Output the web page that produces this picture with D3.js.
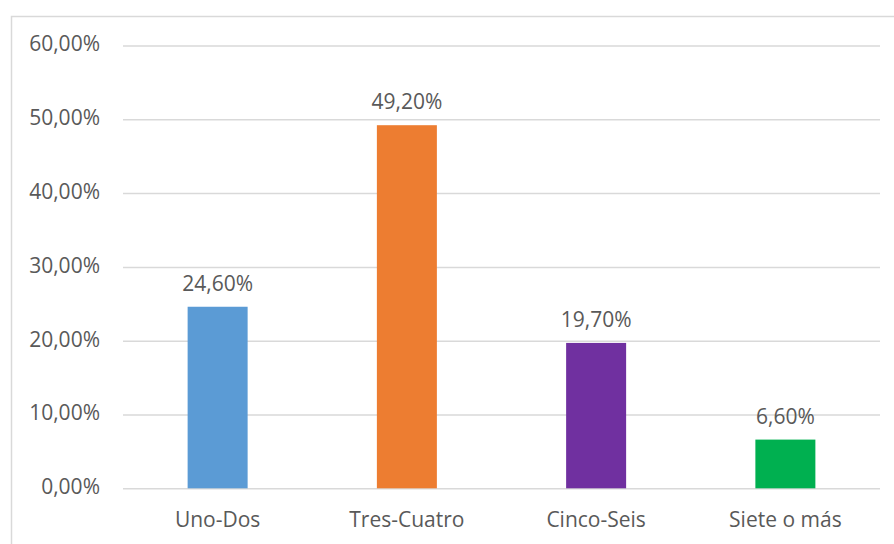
<!DOCTYPE html>
<html>
<head>
<meta charset="utf-8">
<script src="https://cdn.jsdelivr.net/npm/d3@7"></script>
<style>
  html, body { margin: 0; padding: 0; background: #fff; }
  svg { display: block; }
  text { font-family: "Open Sans", "Noto Sans", sans-serif; fill: #595959; }
</style>
</head>
<body>
<script>
// Chart data
const categories = ["Uno-Dos", "Tres-Cuatro", "Cinco-Seis", "Siete o más"];
const values = [24.6, 49.2, 19.7, 6.6];
const colors = ["#5B9BD5", "#ED7D31", "#7030A0", "#00B050"];
const yTicks = [0, 10, 20, 30, 40, 50, 60];

const W = 894, H = 544;
const FS = 21;
const fmt = v => v.toFixed(2).replace(".", ",") + "%";

const svg = d3.select("body").append("svg").attr("width", W).attr("height", H);

// chart frame
svg.append("rect")
  .attr("x", 11.5).attr("y", 16.5)
  .attr("width", W + 20).attr("height", H + 20)
  .attr("fill", "none").attr("stroke", "#D9D9D9").attr("stroke-width", 1.5);

const plot = { left: 123, right: 880, top: 45.5, bottom: 488.3 };

const y = d3.scaleLinear().domain([0, 60]).range([plot.bottom, plot.top]);
const pad = 1 - 60 / ((plot.right - plot.left) / categories.length);
const x = d3.scaleBand().domain(categories).range([plot.left, plot.right])
  .paddingInner(pad).paddingOuter(pad / 2);

// gridlines and y labels
const yAxis = d3.axisLeft(y).tickValues(yTicks).tickFormat(fmt)
  .tickSize(-(plot.right - plot.left)).tickPadding(23);
const gy = svg.append("g").attr("transform", `translate(${plot.left},0)`).call(yAxis);
gy.select(".domain").remove();
gy.selectAll(".tick line").attr("stroke", "#D9D9D9").attr("stroke-width", 1.5);
gy.selectAll(".tick text").attr("font-size", FS).attr("fill", "#595959")
  .attr("font-family", "'Open Sans', sans-serif")
  .attr("dy", "0.26em");

// bars
svg.selectAll("rect.bar").data(values).join("rect")
  .attr("class", "bar")
  .attr("x", (d, i) => x(categories[i]))
  .attr("width", x.bandwidth())
  .attr("y", d => y(d))
  .attr("height", d => y(0) - y(d))
  .attr("fill", (d, i) => colors[i]);

// value labels
svg.selectAll("text.val").data(values).join("text")
  .attr("class", "val")
  .attr("x", (d, i) => x(categories[i]) + x.bandwidth() / 2)
  .attr("y", d => y(d) - 16)
  .attr("text-anchor", "middle")
  .attr("font-size", FS)
  .attr("fill", "#404040")
  .text(d => fmt(d));

// category axis labels
const xAxis = d3.axisBottom(x).tickSize(0).tickPadding(0);
const gx = svg.append("g").attr("transform", `translate(0,${plot.bottom})`).call(xAxis);
gx.select(".domain").remove();
gx.selectAll(".tick text").attr("font-size", FS).attr("fill", "#595959")
  .attr("font-family", "'Open Sans', sans-serif")
  .attr("dy", null).attr("y", 39);
</script>
</body>
</html>
